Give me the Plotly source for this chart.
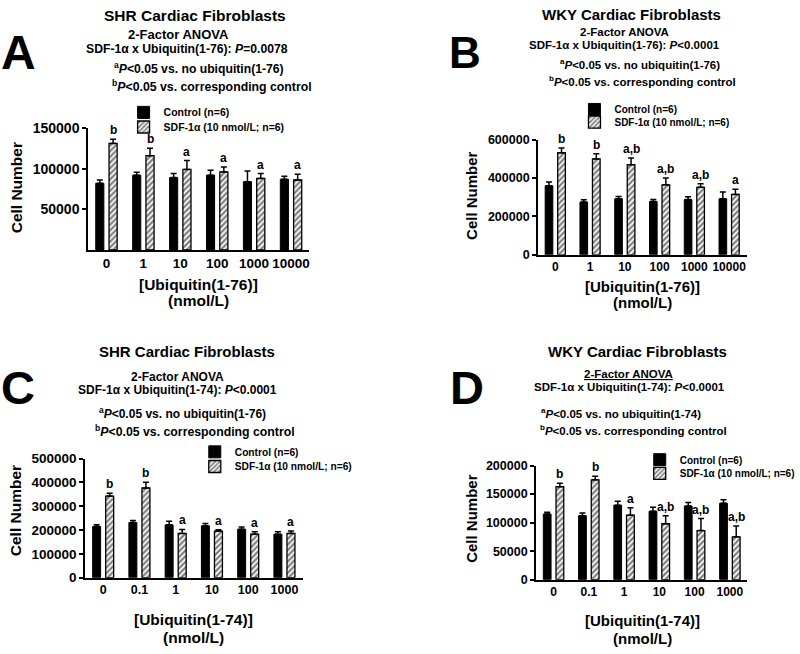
import plotly.graph_objects as go

# ---------------- data ----------------
cats_76 = ["0", "1", "10", "100", "1000", "10000"]
cats_74 = ["0", "0.1", "1", "10", "100", "1000"]

A_ctrl = [82000, 92000, 89000, 92000, 84000, 87000]
A_ctrl_err = [4000, 3500, 5000, 6000, 13000, 3500]
A_sdf = [131000, 116000, 99000, 96000, 88000, 86000]
A_sdf_err = [5000, 9000, 11000, 6000, 6000, 7000]
A_sig = ["b", "b", "a", "a", "a", "a"]

B_ctrl = [360000, 275000, 292000, 278000, 288000, 292000]
B_ctrl_err = [20000, 12000, 12000, 10000, 15000, 35000]
B_sdf = [532000, 500000, 470000, 365000, 352000, 315000]
B_sdf_err = [25000, 27000, 35000, 35000, 18000, 27000]
B_sig = ["b", "b", "a,b", "a,b", "a,b", "a"]

C_ctrl = [215000, 232000, 222000, 218000, 204000, 183000]
C_ctrl_err = [8000, 8000, 15000, 10000, 9000, 10000]
C_sdf = [343000, 377000, 186000, 196000, 183000, 186000]
C_sdf_err = [12000, 24000, 17000, 5000, 10000, 10000]
C_sig = ["b", "b", "a", "a", "a", "a"]

D_ctrl = [115000, 112000, 130500, 120000, 129000, 134000]
D_ctrl_err = [3000, 5000, 7000, 7000, 6000, 6000]
D_sdf = [163000, 175000, 113000, 98000, 86000, 75000]
D_sdf_err = [6000, 6000, 13000, 14000, 21000, 19000]
D_sig = ["b", "b", "a", "a,b", "a,b", "a,b"]

ctrl_name = "Control (n=6)"
sdf_name = "SDF-1α (10 nmol/L; n=6)"

W, H = 800, 654
FONT = "Liberation Sans, Arial, sans-serif"


def px(x):
    return x / W


def py(y):
    return 1 - y / H


panels = [
    dict(ctrl=A_ctrl, ce=A_ctrl_err, sdf=A_sdf, se=A_sdf_err, sig=A_sig, cats=cats_76,
         xdom=(89, 313), ydom=(123, 248), yrange=[0, 150000], ytick=[50000, 100000, 150000],
         tfs=14, xfs=13.5, legx=125, legy=(107, 122), lfs=10.5),
    dict(ctrl=B_ctrl, ce=B_ctrl_err, sdf=B_sdf, se=B_sdf_err, sig=B_sig, cats=cats_76,
         xdom=(544, 755), ydom=(135, 253), yrange=[0, 600000], ytick=[0, 200000, 400000, 600000],
         tfs=12.5, xfs=12, legx=581, legy=(104, 117), lfs=10),
    dict(ctrl=C_ctrl, ce=C_ctrl_err, sdf=C_sdf, se=C_sdf_err, sig=C_sig, cats=cats_74,
         xdom=(86, 306), ydom=(462, 584), yrange=[0, 500000],
         ytick=[0, 100000, 200000, 300000, 400000, 500000],
         tfs=13.5, xfs=12.5, legx=197, legy=(455, 470), lfs=10.2),
    dict(ctrl=D_ctrl, ce=D_ctrl_err, sdf=D_sdf, se=D_sdf_err, sig=D_sig, cats=cats_74,
         xdom=(542, 756), ydom=(469, 586), yrange=[0, 200000],
         ytick=[0, 50000, 100000, 150000, 200000],
         tfs=12.5, xfs=12, legx=647, legy=(463, 477), lfs=10),
]

fig = go.Figure()
layout = dict(
    width=W, height=H, margin=dict(l=0, r=0, t=0, b=0),
    paper_bgcolor="white", plot_bgcolor="white",
    font=dict(family=FONT, color="black", weight="bold"),
    barmode="overlay", showlegend=True,
)
annotations = []
leg_count = 0


def leg_name():
    global leg_count
    leg_count += 1
    return "legend" if leg_count == 1 else "legend%d" % leg_count


for i, p in enumerate(panels):
    n = "" if i == 0 else str(i + 1)
    xa, ya = "x" + n, "y" + n
    idx = list(range(len(p["cats"])))
    lc, ls = leg_name(), leg_name()
    fig.add_trace(go.Bar(
        x=idx, y=p["ctrl"], name=ctrl_name, xaxis=xa, yaxis=ya,
        width=0.22, offset=-0.29,
        marker=dict(color="black", line=dict(color="black", width=1)),
        error_y=dict(type="data", array=p["ce"], arrayminus=[0] * 6, symmetric=False,
                     color="black", thickness=1.5, width=3),
        legend=lc, showlegend=True,
    ))
    fig.add_trace(go.Bar(
        x=idx, y=p["sdf"], name=sdf_name, xaxis=xa, yaxis=ya,
        width=0.22, offset=0.07,
        marker=dict(color="white", line=dict(color="black", width=1.3),
                    pattern=dict(shape="/", fgcolor="black", bgcolor="white",
                                 size=4, solidity=0.55)),
        error_y=dict(type="data", array=p["se"], arrayminus=[0] * 6, symmetric=False,
                     color="black", thickness=1.5, width=3),
        legend=ls, showlegend=True,
    ))
    layout["xaxis" + n] = dict(
        domain=[px(p["xdom"][0]), px(p["xdom"][1])], anchor=ya,
        range=[-0.5, 5.5], tickmode="array", tickvals=idx, ticktext=p["cats"],
        showline=True, linecolor="black", linewidth=1.5, ticks="",
        tickfont=dict(size=p["xfs"], family=FONT, weight="bold"),
        showgrid=False, zeroline=False, fixedrange=True,
    )
    layout["yaxis" + n] = dict(
        domain=[py(p["ydom"][1]), py(p["ydom"][0])], anchor=xa,
        range=p["yrange"], tickmode="array", tickvals=p["ytick"],
        ticktext=[str(v) for v in p["ytick"]],
        showline=True, linecolor="black", linewidth=1.5,
        ticks="outside", ticklen=4, tickwidth=1.5, tickcolor="black",
        tickfont=dict(size=p["tfs"], family=FONT, weight="bold"),
        showgrid=False, zeroline=False, fixedrange=True,
    )
    for ln, yy in ((lc, p["legy"][0]), (ls, p["legy"][1])):
        layout[ln] = dict(
            x=px(p["legx"]), y=py(yy), xanchor="left", yanchor="middle",
            font=dict(size=p["lfs"], family=FONT, weight="bold"),
            bgcolor="rgba(0,0,0,0)", itemwidth=30,
        )
    # significance letters above SDF bars
    for j, s in enumerate(p["sig"]):
        annotations.append(dict(
            x=j + 0.18, y=p["sdf"][j] + p["se"][j], xref=xa, yref=ya,
            text=s, showarrow=False, xanchor="center", yanchor="bottom", yshift=0,
            font=dict(size=12, family=FONT, weight="bold"),
        ))


def txt(x, y, t, size, anchor="center"):
    annotations.append(dict(
        x=px(x), y=py(y), xref="paper", yref="paper", text=t, showarrow=False,
        xanchor=anchor, yanchor="middle", font=dict(size=size, family=FONT, weight="bold"),
    ))


def ytitle(x, y, size):
    annotations.append(dict(
        x=px(x), y=py(y), xref="paper", yref="paper", text="Cell Number", showarrow=False,
        textangle=-90, xanchor="center", yanchor="middle",
        font=dict(size=size, family=FONT, weight="bold"),
    ))


# Panel letters
txt(19, 46, "A", 48)
txt(470, 46, "B", 44)
txt(18, 389, "C", 47)
txt(472, 389, "D", 47)

# Panel A header
txt(197, 8, "SHR Cardiac Fibroblasts", 15.5)
txt(181, 27, "2-Factor ANOVA", 13)
txt(189, 42, "SDF-1α x Ubiquitin(1-76): <i>P</i>=0.0078", 12.2)
txt(201, 61, "<sup>a</sup><i>P</i>&lt;0.05 vs. no ubiquitin(1-76)", 12.2)
txt(214, 80, "<sup>b</sup><i>P</i>&lt;0.05 vs. corresponding control", 12.3)

# Panel B header
txt(639, 7, "WKY Cardiac Fibroblasts", 15)
txt(632, 25, "2-Factor ANOVA", 11.5)
txt(632, 38, "SDF-1α x Ubiquitin(1-76): <i>P</i>&lt;0.0001", 11.5)
txt(647, 57, "<sup>a</sup><i>P</i>&lt;0.05 vs. no ubiquitin(1-76)", 11.5)
txt(650, 75, "<sup>b</sup><i>P</i>&lt;0.05 vs. corresponding control", 11.5)

# Panel C header
txt(189, 352, "SHR Cardiac Fibroblasts", 15)
txt(180, 378, "2-Factor ANOVA", 12)
txt(180, 392, "SDF-1α x Ubiquitin(1-74): <i>P</i>&lt;0.0001", 12)
txt(185, 415, "<sup>a</sup><i>P</i>&lt;0.05 vs. no ubiquitin(1-76)", 12)
txt(197, 434, "<sup>b</sup><i>P</i>&lt;0.05 vs. corresponding control", 12.3)

# Panel D header
txt(645, 352, "WKY Cardiac Fibroblasts", 15)
txt(636, 375, "<u>2-Factor ANOVA</u>", 11.5)
txt(637, 389, "SDF-1α x Ubiquitin(1-74): <i>P</i>&lt;0.0001", 11.5)
txt(628, 415, "<sup>a</sup><i>P</i>&lt;0.05 vs. no ubiquitin(1-74)", 11.5)
txt(641, 433, "<sup>b</sup><i>P</i>&lt;0.05 vs. corresponding control", 11.5)

# y titles
ytitle(17, 184, 15.5)
ytitle(477, 192, 15)
ytitle(16, 515, 15.5)
ytitle(477, 523, 15)

# x titles
txt(201, 283, "[Ubiquitin(1-76)]", 15.5)
txt(201, 300, "(nmol/L)", 15.5)
txt(650, 285, "[Ubiquitin(1-76)]", 15)
txt(650, 302, "(nmol/L)", 15)
txt(196, 627, "[Ubiquitin(1-74)]", 15.5)
txt(196, 645, "(nmol/L)", 15.5)
txt(650, 628, "[Ubiquitin(1-74)]", 15)
txt(650, 646, "(nmol/L)", 15)

layout["annotations"] = annotations
fig.update_layout(**layout)
fig.write_html(
    "out.html",
    config={"displayModeBar": False},
    post_script="document.body.style.margin='0';document.body.style.padding='0';",
)
